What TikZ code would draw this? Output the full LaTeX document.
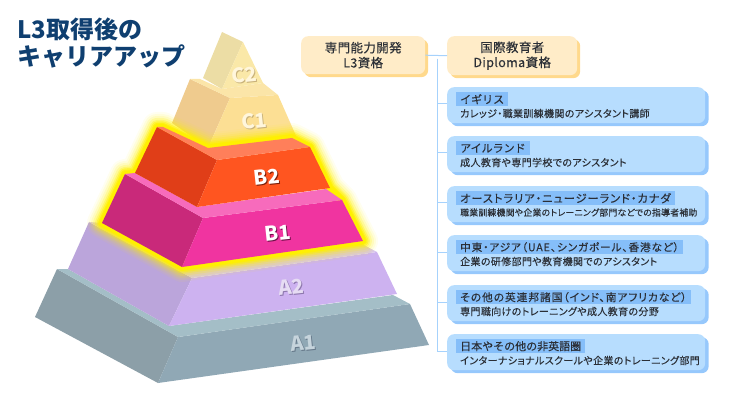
\documentclass[tikz,border=0pt]{standalone}
\usepackage{fontspec}
\setmainfont{Noto Sans CJK JP}
\newfontfamily\jpcard[RawFeature={+palt},LetterSpace=3,FakeBold=0.35]{Noto Sans CJK JP}
\newfontfamily\jpsmall[RawFeature={+palt},LetterSpace=3.5,FakeBold=0.1]{Noto Sans CJK JP}
\newfontfamily\jphead[RawFeature={+palt},LetterSpace=8.5,FakeBold=0.25]{Noto Sans CJK JP}
\newfontfamily\jpwide[FakeBold=0.25]{Noto Sans CJK JP}
\usetikzlibrary{shadows}
\definecolor{navytitle}{HTML}{0F3F70}
\definecolor{inktext}{HTML}{2B2F36}
\definecolor{creambox}{HTML}{FFECC8}
\definecolor{creamedge}{HTML}{FFD98C}
\definecolor{bluebox}{HTML}{B7DDFE}
\definecolor{blueedge}{HTML}{96C8FC}
\definecolor{bluetag}{HTML}{85BEF9}
\definecolor{bluewire}{HTML}{A6D2FC}
\definecolor{glowyellow}{HTML}{FFF000}
\definecolor{aoneleft}{HTML}{8C9FA8}
\definecolor{aonefront}{HTML}{90A8B5}
\definecolor{aonetop}{HTML}{A4BEC7}
\definecolor{atwoleft}{HTML}{BBA5DB}
\definecolor{atwofront}{HTML}{CDB2F0}
\definecolor{atwotop}{HTML}{D8C6EE}
\definecolor{boneleft}{HTML}{C9297A}
\definecolor{bonefront}{HTML}{F034A0}
\definecolor{bonetop}{HTML}{F76BBC}
\definecolor{btwoleft}{HTML}{E03E18}
\definecolor{btwofront}{HTML}{FF5520}
\definecolor{btwotop}{HTML}{FF7F5A}
\definecolor{coneleft}{HTML}{EFCB8E}
\definecolor{conefront}{HTML}{FCDF94}
\definecolor{conetop}{HTML}{FBE5A8}
\definecolor{ctwoleft}{HTML}{ECDDA5}
\definecolor{ctwofront}{HTML}{FAE8A8}
\tikzset{
	titletext/.style={anchor=west,inner sep=0pt,text=navytitle,font=\fontsize{24}{24}\selectfont\bfseries},
	creamcard/.style={fill=creambox,rounded corners=7pt,inner sep=0pt,align=center,text=inktext,
		font=\fontsize{12.5}{15}\jpcard,
		general shadow={fill=creamedge,shadow xshift=3pt,shadow yshift=-3pt}},
	bluecard/.style={fill=bluebox,rounded corners=7pt,inner sep=0pt,minimum width=258pt,minimum height=36pt,anchor=north west,
		general shadow={fill=blueedge,shadow xshift=3.5pt,shadow yshift=-3pt}},
	headtag/.style={fill=bluetag,anchor=north west,inner xsep=4pt,inner ysep=0pt,minimum height=14pt,text=inktext,
		font=\fontsize{11}{11}\jphead},
	subline/.style={anchor=west,inner sep=0pt,text=inktext,font=\fontsize{10}{10}\jpsmall},
	wire/.style={draw=bluewire,line width=1pt},
	tierlabel/.style={inner sep=0pt,rotate=6,font=\fontsize{20}{20}\selectfont\bfseries},
}
\begin{document}
\begin{tikzpicture}[x=1pt,y=-1pt]
	\useasboundingbox (0,0) rectangle (736,414);

	\fill[aoneleft] (35,317) -- (57,269) -- (178,337) -- (158,383) -- cycle;
	\fill[aonefront] (158,383) -- (178,337) -- (410,304) -- (429,345) -- cycle;
	\fill[aonetop] (57,269) -- (68,269) -- (169,326) -- (393,295) -- (410,304) -- (178,337) -- cycle;

	\fill[atwoleft] (68,269) -- (89,222) -- (192,278) -- (169,326) -- cycle;
	\fill[atwofront] (169,326) -- (192,278) -- (377,252) -- (397,294) -- cycle;
	\fill[atwotop] (89,222) -- (102,223) -- (182,267) -- (360,243) -- (377,252) -- (192,278) -- cycle;

	\fill[coneleft] (172,123) -- (190,79) -- (230,98) -- (208,148) -- cycle;
	\fill[conefront] (208,148) -- (230,98) -- (278,95) -- (297,138) -- cycle;
	\fill[conetop] (190,79) -- (200,79) -- (222,89) -- (263,83) -- (278,95) -- (230,98) -- cycle;

	\fill[ctwoleft] (203,78) -- (222,32) -- (243,42) -- (222,89) -- cycle;
	\fill[ctwofront] (222,89) -- (243,42) -- (263,83) -- cycle;

	\foreach \glow/\shade in {30/6,26/9,22/13,18/20,14/30,11/45,8/70,6/100}{
		\draw[glowyellow,line join=round,line width=\glow pt,opacity=\shade/100]
			(102,223) -- (125,174) -- (135,173) -- (157,127) -- (163,127) -- (208,148) -- (292,138) -- (310,147) -- (330,188) -- (342,200) -- (363,241) -- (182,267) -- cycle;
	}

	\fill[boneleft] (102,223) -- (125,174) -- (203,218) -- (182,267) -- cycle;
	\fill[bonefront] (182,267) -- (203,218) -- (342,200) -- (363,241) -- cycle;
	\fill[bonetop] (125,174) -- (135,173) -- (197,207) -- (326,189) -- (342,200) -- (203,218) -- cycle;

	\fill[btwoleft] (135,173) -- (157,127) -- (217,160) -- (197,207) -- cycle;
	\fill[btwofront] (197,207) -- (217,160) -- (310,147) -- (330,188) -- cycle;
	\fill[btwotop] (157,127) -- (163,127) -- (208,148) -- (292,138) -- (310,147) -- (217,160) -- cycle;

	\foreach \tier/\px/\py/\face/\under in {
		C2/244/75/FFF6DC/C9B27A,C1/254/121/FFF6DC/C9B27A,
		B2/267/177/FFFFFF/7A1E08,B1/278/233/FFFFFF/6E0F48,
		A2/291/287/E6DCF3/8E78AE,A1/303/343/C6D4DC/66798A}{
		\definecolor{tierink}{HTML}{\under}
		\definecolor{tierface}{HTML}{\face}
		\node (\tier shade) [tierlabel,text=tierink] at (\px+1,\py+1) {\tier};
		\node (\tier) [tierlabel,text=tierface] at (\px,\py) {\tier};
	}

	\node (headingone) [titletext] at (17,29) {L3取得後の};
	\node (headingtwo) [titletext] at (17,56) {キャリアアップ};

	\coordinate (trunk) at (437,59);
	\foreach \row/\top in {uk/87,ie/136,au/186,me/235,cw/285,jp/334}{
		\coordinate (\row pin) at (447,\top+17);
		\draw[wire] (trunk) |- (\row pin);
	}

	\node (lthree) [creamcard,minimum width=124pt,minimum height=38pt,anchor=north west] at (301,36) {専門能力開発\\L3資格};
	\node (diploma) [creamcard,minimum width=130pt,minimum height=39pt,anchor=north west] at (447,36) {国際教育者\\Diploma資格};
	\draw[wire] (lthree.east) -- (diploma.west);

	\foreach \row/\top/\head/\sub in {
		uk/87/{\jpwide イギリス}/カレッジ・職業訓練機関のアシスタント講師,
		ie/136/{\jpwide アイルランド}/成人教育や専門学校でのアシスタント,
		au/186/{\fontsize{11.2}{11}\selectfont オーストラリア・ニュージーランド・カナダ}/{\fontsize{8.8}{9}\selectfont 職業訓練機関や企業のトレーニング部門などでの指導者補助},
		me/235/{\fontsize{10.6}{11}\selectfont 中東・アジア（UAE、シンガポール、香港など）}/企業の研修部門や教育機関でのアシスタント,
		cw/285/{\fontsize{10.75}{11}\selectfont その他の英連邦諸国（インド、南アフリカなど）}/専門職向けのトレーニングや成人教育の分野,
		jp/334/{\jpwide 日本やその他の非英語圏}/インターナショナルスクールや企業のトレーニング部門}{
		\node (\row card) [bluecard] at (447,\top) {};
		\node (\row head) [headtag] at (456,\top+5) {\head};
		\node (\row sub) [subline] at (460,\top+26.5) {\sub};
	}
\end{tikzpicture}
\end{document}
